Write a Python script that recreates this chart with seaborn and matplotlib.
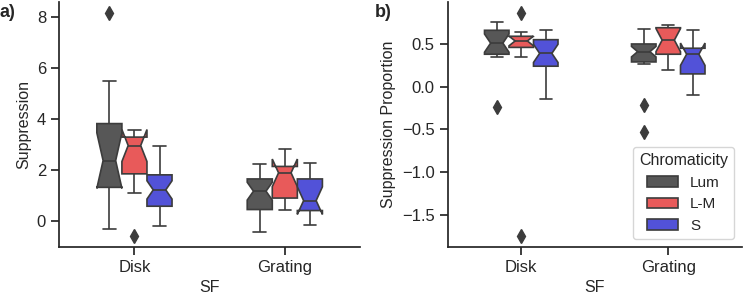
import matplotlib
matplotlib.use("Agg")
import matplotlib.pyplot as plt
import pandas as pd
import seaborn as sns

# --- categories and colours ---
sf_levels = ["Disk", "Grating"]
chrom_levels = ["Lum", "L-M", "S"]
chrom_colors = ["#575757", "#e85a5a", "#5252d8"]

# --- a) Suppression, one list per box (values read off the figure) ---
supp_disk_lum = [-0.33, 0.71, 1.05, 1.32, 1.68, 2.05, 2.37, 2.90, 3.41, 3.82, 4.36, 5.50, 8.15]
supp_disk_lm = [-0.57, 1.09, 1.52, 1.85, 2.24, 2.71, 2.96, 3.05, 3.18, 3.29, 3.37, 3.46, 3.55]
supp_disk_s = [-0.20, 0.05, 0.18, 0.27, 0.36, 0.44, 0.52, 0.58, 0.66, 0.75, 0.83, 0.92, 1.03, 1.12,
               1.22, 1.30, 1.39, 1.47, 1.55, 1.64, 1.72, 1.81, 1.93, 2.08, 2.21, 2.37, 2.55, 2.74, 2.96]
supp_grat_lum = [-0.43, -0.12, 0.08, 0.19, 0.27, 0.33, 0.40, 0.45, 0.56, 0.68, 0.79, 0.91, 1.02, 1.10,
                 1.17, 1.22, 1.28, 1.33, 1.41, 1.47, 1.56, 1.65, 1.71, 1.78, 1.86, 1.93, 2.01, 2.12, 2.22]
supp_grat_lm = [0.43, 0.61, 0.77, 0.90, 1.24, 1.58, 1.89, 1.97, 2.05, 2.14, 2.31, 2.56, 2.83]
supp_grat_s = [-0.16, 0.12, 0.29, 0.41, 0.52, 0.66, 0.80, 1.04, 1.31, 1.65, 1.83, 2.02, 2.27]

# --- b) Suppression Proportion ---
prop_disk_lum = [-0.24, 0.35, 0.36, 0.37, 0.38, 0.41, 0.44, 0.48, 0.51, 0.55, 0.59, 0.63, 0.66,
                 0.69, 0.71, 0.74, 0.76]
prop_disk_lm = [-1.74, 0.35, 0.42, 0.46, 0.49, 0.51, 0.535, 0.55, 0.57, 0.59, 0.61, 0.64, 0.86]
prop_disk_s = [-0.14, 0.02, 0.10, 0.16, 0.21, 0.24, 0.27, 0.30, 0.33, 0.36, 0.39, 0.42, 0.45, 0.48,
               0.52, 0.55, 0.58, 0.60, 0.62, 0.64, 0.66]
prop_grat_lum = [-0.525, -0.21, 0.27, 0.27, 0.28, 0.28, 0.29, 0.29, 0.31, 0.33, 0.35, 0.37, 0.38, 0.40,
                 0.41, 0.42, 0.43, 0.44, 0.46, 0.47, 0.49, 0.50, 0.52, 0.55, 0.58, 0.61, 0.63, 0.66, 0.68]
prop_grat_lm = [0.20, 0.27, 0.33, 0.38, 0.44, 0.50, 0.545, 0.60, 0.65, 0.69, 0.70, 0.71, 0.72]
prop_grat_s = [-0.10, 0.03, 0.10, 0.15, 0.22, 0.31, 0.38, 0.40, 0.43, 0.45, 0.52, 0.59, 0.66]


def long_table(groups, name):
    rows = []
    for (sf, chrom), vals in groups.items():
        for v in vals:
            rows.append({"SF": sf, "Chromaticity": chrom, name: v})
    return pd.DataFrame(rows)


df_supp = long_table({
    ("Disk", "Lum"): supp_disk_lum, ("Disk", "L-M"): supp_disk_lm, ("Disk", "S"): supp_disk_s,
    ("Grating", "Lum"): supp_grat_lum, ("Grating", "L-M"): supp_grat_lm, ("Grating", "S"): supp_grat_s,
}, "Suppression")
df_prop = long_table({
    ("Disk", "Lum"): prop_disk_lum, ("Disk", "L-M"): prop_disk_lm, ("Disk", "S"): prop_disk_s,
    ("Grating", "Lum"): prop_grat_lum, ("Grating", "L-M"): prop_grat_lm, ("Grating", "S"): prop_grat_s,
}, "Suppression Proportion")

# --- plotting ---
sns.set_theme(style="ticks", context="notebook")
plt.rcParams["font.family"] = ["Liberation Sans", "DejaVu Sans"]
plt.rcParams.update({"xtick.labelsize": 12, "ytick.labelsize": 12, "axes.labelsize": 11.5,
                     "legend.fontsize": 11, "legend.title_fontsize": 11.5})

fig = plt.figure(figsize=(7.5, 2.94), dpi=100)
ax1 = fig.add_axes([0.079, 0.161, 0.401, 0.832])
ax2 = fig.add_axes([0.597, 0.161, 0.392, 0.832])

edge = "#3c3c3c"
box_kw = dict(x="SF", hue="Chromaticity", order=sf_levels, hue_order=chrom_levels,
              palette=chrom_colors, saturation=1, width=0.5, linewidth=1.2,
              linecolor=edge, fliersize=7, shownotches=True,
              flierprops=dict(marker="d", markerfacecolor=edge, markeredgecolor=edge))

sns.boxplot(data=df_supp, y="Suppression", ax=ax1, legend=False, **box_kw)
sns.boxplot(data=df_prop, y="Suppression Proportion", ax=ax2, **box_kw)

sns.move_legend(ax2, "lower right", title="Chromaticity")
sns.despine(fig)

fig.text(0.0, 0.985, "a)", fontsize=13, fontweight="bold", va="top")
fig.text(0.5, 0.985, "b)", fontsize=13, fontweight="bold", va="top")

fig.savefig("out.png", dpi=100)
